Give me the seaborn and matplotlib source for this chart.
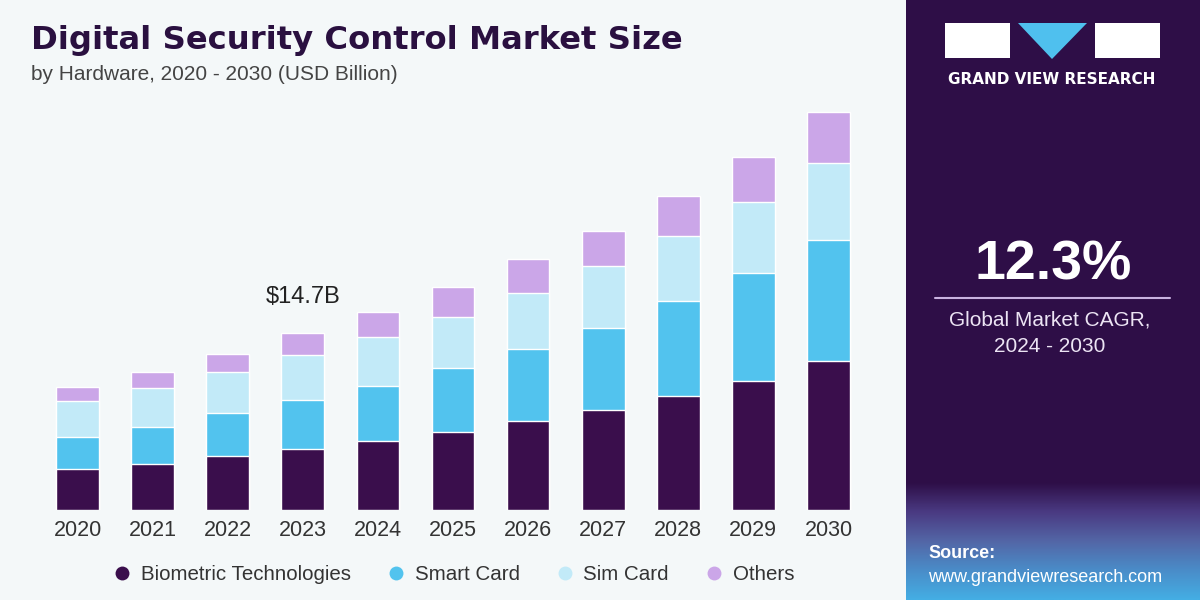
import numpy as np
import pandas as pd
import matplotlib
matplotlib.use("Agg")
import matplotlib.pyplot as plt
import seaborn as sns
from matplotlib.patches import Rectangle, Polygon
from matplotlib.lines import Line2D
from matplotlib.colors import LinearSegmentedColormap

# ------------------------------------------------------------
# Data (USD Billion)
# ------------------------------------------------------------
years = ["2020", "2021", "2022", "2023", "2024", "2025",
         "2026", "2027", "2028", "2029", "2030"]
biometric = [3.40, 3.82, 4.49, 5.07, 5.73, 6.48, 7.39, 8.31, 9.47, 10.71, 12.38]
smart_card = [2.66, 3.07, 3.57, 4.07, 4.57, 5.32, 5.98, 6.81, 7.89, 8.97, 10.05]
sim_card = [2.99, 3.24, 3.41, 3.74, 4.07, 4.24, 4.65, 5.15, 5.40, 5.90, 6.40]
others = [1.16, 1.33, 1.50, 1.83, 2.08, 2.49, 2.82, 2.91, 3.32, 3.74, 4.24]

series_names = ["Biometric Technologies", "Smart Card", "Sim Card", "Others"]
series_colors = ["#3a0e4c", "#52c3ee", "#c2eaf8", "#cba6e8"]

highlight_year = "2023"
highlight_label = "$14.7B"
cagr_value = "12.3%"

BG = "#f4f8f9"
PANEL = "#2e0e47"
TITLE_COLOR = "#2a1040"

sns.set_style("white")
plt.rcParams["font.family"] = ["Liberation Sans", "DejaVu Sans"]

df = pd.DataFrame({
    "year": years,
    "Biometric Technologies": biometric,
    "Smart Card": smart_card,
    "Sim Card": sim_card,
    "Others": others,
})
# cumulative stack heights, so the bars can be layered from the top down
cum = df[series_names].cumsum(axis=1)

fig = plt.figure(figsize=(12, 6), dpi=100, facecolor=BG)

# --- right side panel ---------------------------------------
fig.patches.append(Rectangle((906 / 1200, 0), 294 / 1200, 1, transform=fig.transFigure,
                             facecolor=PANEL, edgecolor="none", zorder=0))
grad_ax = fig.add_axes([906 / 1200, 0, 294 / 1200, 118 / 600])
grad_ax.set_zorder(1)
grad_cmap = LinearSegmentedColormap.from_list(
    "panel_grad", [PANEL, "#4a3a82", "#5366a6", "#4a8cc8", "#44aee4"])
# top row = panel colour, bottom row = light blue
grad_ax.imshow(np.linspace(0, 1, 100).reshape(-1, 1), aspect="auto", cmap=grad_cmap,
               extent=[0, 1, 0, 1])
grad_ax.axis("off")

# logo
fig.patches.append(Rectangle((945 / 1200, 1 - 58 / 600), 65 / 1200, 35 / 600,
                             transform=fig.transFigure, facecolor="white", edgecolor="none"))
fig.patches.append(Rectangle((1095 / 1200, 1 - 58 / 600), 65 / 1200, 35 / 600,
                             transform=fig.transFigure, facecolor="white", edgecolor="none"))
fig.patches.append(Polygon([(1018 / 1200, 1 - 23 / 600), (1087 / 1200, 1 - 23 / 600),
                            (1052 / 1200, 1 - 59 / 600)], closed=True,
                           transform=fig.transFigure, facecolor="#4fc0ee", edgecolor="none"))
fig.text(1052 / 1200, 1 - 79 / 600, "GRAND VIEW RESEARCH", color="white", fontsize=11,
         fontweight="bold", ha="center", va="center", family="DejaVu Sans")

# CAGR block
fig.text(1053 / 1200, 1 - 265 / 600, cagr_value, color="white", fontsize=40,
         fontweight="bold", ha="center", va="center")
fig.add_artist(Line2D([935 / 1200, 1170 / 1200], [1 - 298 / 600, 1 - 298 / 600],
                      color="#c9b2e0", lw=1.5, transform=fig.transFigure))
fig.text(1050 / 1200, 1 - 320 / 600, "Global Market CAGR,", color="#ece4f4", fontsize=15,
         ha="center", va="center")
fig.text(1050 / 1200, 1 - 346 / 600, "2024 - 2030", color="#ece4f4", fontsize=15,
         ha="center", va="center")

# source
fig.text(928 / 1200, 1 - 553 / 600, "Source:", color="white", fontsize=13,
         fontweight="bold", ha="left", va="center", zorder=3)
fig.text(928 / 1200, 1 - 577 / 600, "www.grandviewresearch.com", color="white", fontsize=13,
         ha="left", va="center", zorder=3)

# --- titles ---------------------------------------------------
fig.text(31 / 1200, 1 - 40 / 600, "Digital Security Control Market Size", color=TITLE_COLOR,
         fontsize=23.2, fontweight="bold", ha="left", va="center", family="DejaVu Sans")
fig.text(31 / 1200, 1 - 75 / 600, "by Hardware, 2020 - 2030 (USD Billion)", color="#444444",
         fontsize=15, ha="left", va="center")

# --- stacked bars ---------------------------------------------
ax = fig.add_axes([40 / 1200, 0.15, 826 / 1200, 410 / 600])
ax.set_facecolor(BG)
for name, color in reversed(list(zip(series_names, series_colors))):
    sns.barplot(x=df["year"], y=cum[name], color=color, width=0.57, saturation=1,
                errorbar=None, ax=ax, zorder=2)

ax.set_xlim(-0.5, len(years) - 0.5)
ax.set_ylim(0, 34.05)
ax.set_xlabel("")
ax.set_ylabel("")
ax.set_yticks([])
ax.tick_params(axis="x", length=0, pad=7, labelsize=15.5, labelcolor="#333333")
sns.despine(ax=ax, left=True, bottom=True)

hi = years.index(highlight_year)
ax.annotate(highlight_label, xy=(hi, cum["Others"][hi]), xytext=(0, 26),
            textcoords="offset points", ha="center", va="center",
            fontsize=17, color="#222222")

# --- legend ---------------------------------------------------
handles = [Line2D([0], [0], marker="o", linestyle="none", markersize=10,
                  markerfacecolor=c, markeredgecolor="none") for c in series_colors]
fig.legend(handles, series_names, ncol=4, loc="center",
           bbox_to_anchor=(452 / 1200, 1 - 575 / 600), frameon=False,
           fontsize=14.8, labelcolor="#333333", handlelength=1.2,
           handletextpad=0.3, columnspacing=1.6)

fig.savefig("out.png", dpi=100, facecolor=BG)
